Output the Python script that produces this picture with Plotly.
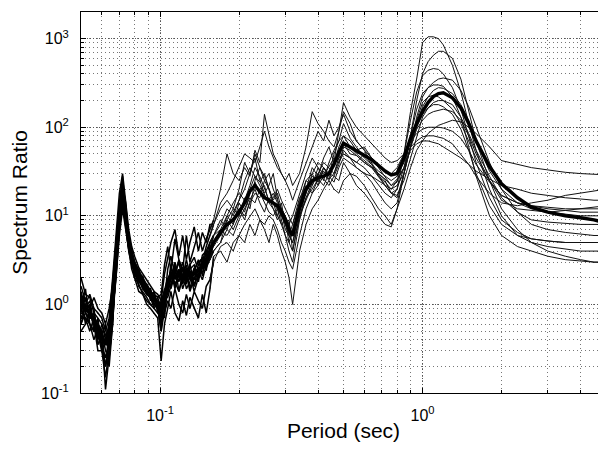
import math
import plotly.graph_objects as go

# period grid (sec): dense high-frequency part + sparser long-period part
periods_hf = [0.050, 0.052, 0.054, 0.056, 0.058, 0.060, 0.062, 0.064, 0.066, 0.068,
              0.070, 0.072, 0.074, 0.076, 0.078, 0.080, 0.083, 0.086, 0.089, 0.092,
              0.095, 0.098, 0.101, 0.104, 0.107, 0.110, 0.114, 0.118, 0.122, 0.126,
              0.130, 0.135, 0.140, 0.145, 0.150, 0.155]
periods_lf = [0.16, 0.17, 0.18, 0.19, 0.20, 0.21, 0.22, 0.23, 0.24, 0.25,
              0.26, 0.27, 0.28, 0.29, 0.30, 0.31, 0.32, 0.34, 0.36, 0.38,
              0.40, 0.42, 0.44, 0.46, 0.48, 0.50, 0.53, 0.56, 0.60, 0.64,
              0.68, 0.72, 0.76, 0.80, 0.85, 0.90, 0.95, 1.0, 1.05, 1.1,
              1.15, 1.2, 1.3, 1.4, 1.5, 1.6, 1.8, 2.0, 2.3, 2.6,
              3.0, 3.5, 4.0, 4.5, 5.0]

# individual spectrum ratios (hf part, lf part)
st01_hf = [1.4, 0.9, 1.1, 0.6, 0.5, 0.35, 0.2, 0.3, 0.9, 4, 14, 28, 11, 6, 4, 3, 2.4, 1.8, 1.6, 1.3,
           1.2, 1.0, 0.7, 1.1, 2.5, 3.5, 2.2, 3, 1.8, 2.6, 1.5, 2.4, 3.2, 2.1, 3.5, 5]
st01_lf = [6, 9, 7, 11, 15, 20, 30, 45, 25, 18, 22, 30, 16, 9, 6, 4, 3, 9, 20, 35,
           28, 45, 60, 40, 90, 150, 110, 70, 55, 40, 30, 22, 18, 20, 50, 150, 350, 900, 1050, 1050,
           1000, 850, 500, 250, 110, 55, 20, 10, 6, 5, 4.5, 4.2, 4, 4, 4]
st02_hf = [0.8, 1.2, 0.7, 0.8, 0.45, 0.5, 0.3, 0.25, 0.7, 3, 9, 22, 14, 5, 3.5, 2.5, 2, 1.6, 1.4, 1.2,
           0.9, 1.1, 0.8, 1.5, 1.4, 2.8, 1.6, 2.2, 2.6, 1.7, 2.9, 1.6, 2.8, 3.4, 2.6, 3.2]
st02_lf = [4, 5, 9, 7, 10, 16, 12, 25, 35, 28, 20, 15, 18, 12, 10, 6, 5, 12, 18, 30,
           22, 35, 28, 50, 70, 110, 75, 60, 45, 38, 28, 24, 20, 25, 35, 80, 200, 400, 550, 650,
           720, 720, 600, 350, 150, 70, 25, 12, 7, 5, 4, 3.5, 3.2, 3, 3]
st03_hf = [0.6, 0.8, 1.0, 0.5, 0.7, 0.3, 0.25, 0.4, 1.2, 5, 12, 25, 10, 4.5, 3.2, 2.6, 2.0, 1.5, 1.6, 1.1,
           1.3, 0.8, 1.0, 0.9, 1.9, 1.6, 2.8, 1.4, 2.0, 3.2, 2.2, 1.4, 2.0, 2.6, 4, 3.6]
st03_lf = [5, 7, 6, 8, 12, 9, 15, 20, 14, 11, 16, 12, 10, 14, 8, 9, 4, 10, 15, 22,
           35, 30, 25, 40, 60, 80, 70, 55, 60, 45, 35, 28, 22, 24, 50, 120, 250, 380, 440, 460,
           450, 400, 280, 160, 80, 40, 16, 9, 6.5, 5.5, 5.2, 5, 5, 5, 5]
st04_hf = [1.2, 0.6, 0.9, 0.9, 0.4, 0.6, 0.45, 0.5, 1.5, 2.5, 8, 16, 9, 5.5, 3.8, 2.2, 1.9, 2.1, 1.3, 1.4,
           1.0, 0.9, 0.5, 1.3, 1.2, 1.6, 2.4, 1.8, 2.6, 1.5, 1.8, 2.6, 1.8, 3, 2.4, 4.5]
st04_lf = [4.5, 6, 10, 8, 14, 11, 18, 24, 18, 14, 11, 10, 12, 8, 9, 5, 7, 14, 25, 22,
           30, 40, 35, 30, 45, 65, 50, 48, 40, 35, 30, 25, 18, 16, 30, 60, 130, 220, 280, 320,
           350, 360, 340, 260, 170, 100, 40, 20, 11, 8, 7, 6.5, 6.2, 6, 6]
st05_hf = [0.9, 1.5, 0.6, 0.5, 0.6, 0.5, 0.35, 0.6, 0.9, 2, 7, 14, 8, 4, 2.8, 2.4, 1.6, 1.4, 1.2, 1.0,
           1.0, 1.2, 0.9, 1.0, 1.7, 2.4, 1.5, 2.5, 1.7, 2.2, 1.4, 2.0, 2.4, 1.9, 2.8, 3.6]
st05_lf = [4, 5, 7, 6, 9, 12, 16, 14, 20, 22, 14, 12, 9, 11, 7, 6, 8, 16, 20, 28,
           24, 32, 26, 30, 40, 55, 45, 40, 50, 38, 32, 28, 25, 28, 40, 70, 110, 170, 220, 260,
           280, 275, 240, 180, 120, 70, 32, 20, 14, 12, 11, 10.5, 10, 10, 10]
st06_hf = [0.7, 0.7, 0.5, 0.7, 0.35, 0.45, 0.6, 0.2, 0.6, 3, 11, 20, 13, 6, 3.2, 2.0, 2.5, 1.7, 1.5, 1.2,
           1.4, 0.9, 1.1, 1.4, 1.3, 2.0, 3.0, 2.0, 2.2, 2.8, 1.9, 2.5, 3.0, 3.3, 3, 4.2]
st06_lf = [6, 8, 12, 10, 15, 25, 35, 28, 22, 18, 14, 16, 20, 15, 12, 10, 8, 14, 22, 18,
           26, 22, 30, 38, 45, 50, 45, 35, 30, 28, 25, 22, 20, 22, 30, 60, 120, 190, 220, 230,
           220, 200, 160, 110, 70, 45, 25, 17, 14, 13, 12.5, 12, 12, 12, 12]
st07_hf = [1.1, 0.8, 0.6, 0.4, 0.55, 0.4, 0.2, 0.4, 1.0, 4, 12, 20, 10, 5, 4, 2.5, 1.8, 1.9, 1.4, 1.5,
           1.1, 1.0, 0.6, 1.2, 1.5, 2.6, 2.0, 2.4, 1.5, 2.0, 2.4, 1.6, 2.2, 2.8, 3.8, 3.2]
st07_lf = [5, 6, 8, 9, 12, 10, 14, 18, 16, 25, 20, 14, 12, 10, 8, 6, 5, 9, 16, 24,
           30, 26, 22, 28, 38, 60, 55, 48, 40, 35, 28, 22, 18, 17, 25, 45, 80, 130, 165, 190,
           200, 200, 180, 130, 85, 55, 28, 16, 11, 9, 8.5, 8.2, 8, 8, 8]
st08_hf = [2.0, 1.3, 1.2, 0.8, 0.7, 0.6, 0.4, 0.6, 1.4, 3, 9, 18, 9, 4.5, 3, 2.8, 2.2, 1.6, 1.7, 1.4,
           1.2, 1.1, 1.0, 0.7, 2.0, 1.5, 2.2, 3.2, 2.4, 1.8, 2.8, 3.4, 2.4, 3.0, 4.5, 6]
st08_lf = [8, 12, 15, 12, 20, 40, 30, 50, 35, 25, 30, 20, 15, 12, 10, 8, 10, 18, 30, 45,
           35, 25, 40, 55, 70, 80, 60, 50, 42, 36, 30, 26, 22, 26, 35, 60, 95, 120, 140, 150,
           155, 160, 150, 120, 80, 50, 25, 15, 12, 11.5, 11, 11.5, 12, 12.5, 13]
st09_hf = [0.5, 0.6, 0.8, 0.6, 0.3, 0.3, 0.15, 0.3, 0.7, 2, 6, 12, 7, 4, 2.5, 2.0, 1.4, 1.3, 1.0, 0.9,
           0.8, 0.7, 0.23, 0.6, 0.9, 1.4, 0.8, 0.65, 1.1, 0.75, 1.2, 0.9, 0.7, 1.3, 0.8, 1.5]
st09_lf = [3.5, 4, 3, 5, 6, 5, 8, 6, 9, 7, 5, 8, 6, 4, 3, 2, 1.0, 4, 8, 12,
           15, 20, 25, 20, 18, 25, 30, 28, 22, 16, 12, 10, 8, 12, 20, 35, 55, 70, 85, 95,
           105, 110, 120, 115, 100, 85, 60, 42, 38, 35, 33, 31, 30, 29.5, 29]
st10_hf = [0.6, 1.0, 1.3, 0.9, 0.8, 0.7, 0.5, 0.7, 2.0, 6, 18, 30, 15, 7, 4.5, 3.5, 2.6, 2.2, 1.9, 1.6,
           1.4, 1.3, 1.1, 2.2, 3.5, 5, 7, 3.5, 6, 3.2, 5, 7.5, 4, 6.5, 5, 8]
st10_lf = [8, 14, 18, 25, 35, 50, 45, 40, 60, 90, 60, 45, 35, 30, 25, 20, 15, 25, 40, 60,
           90, 70, 120, 80, 100, 140, 90, 70, 55, 45, 38, 32, 30, 35, 50, 70, 85, 95, 100, 100,
           100, 98, 90, 75, 55, 38, 24, 17, 14, 13, 12, 11.5, 11, 11, 11]
st11_hf = [1.6, 1.1, 0.9, 1.2, 0.9, 0.8, 0.6, 0.9, 1.6, 4, 13, 24, 12, 6, 4, 3.0, 2.4, 2.0, 1.7, 1.4,
           1.3, 1.2, 1.3, 2.8, 4.5, 2.4, 5.5, 3.2, 2.4, 6, 3, 4.5, 6.5, 4, 5.5, 7]
st11_lf = [9, 20, 50, 30, 25, 35, 28, 55, 40, 140, 80, 50, 40, 30, 25, 30, 22, 30, 60, 150,
           110, 90, 70, 60, 90, 190, 130, 100, 80, 65, 55, 45, 40, 42, 50, 60, 70, 78, 80, 80,
           78, 75, 65, 50, 38, 28, 18, 14, 13, 14, 15, 17, 18, 19, 20]
st12_hf = [0.9, 0.7, 0.6, 0.5, 0.5, 0.35, 0.25, 0.35, 0.8, 2.2, 7, 15, 8, 4.2, 3, 2.0, 1.7, 1.3, 1.1, 1.0,
           0.9, 0.8, 0.8, 0.8, 1.1, 0.9, 1.5, 1.0, 0.8, 1.3, 0.9, 1.4, 1.1, 0.9, 1.6, 1.9]
st12_lf = [3, 4.5, 5, 4, 6, 8, 10, 12, 9, 8, 10, 9, 7, 5, 4, 3, 2.5, 6, 12, 18,
           22, 28, 35, 45, 40, 50, 45, 40, 35, 28, 22, 18, 16, 20, 35, 55, 65, 70, 70, 68,
           65, 60, 52, 45, 38, 32, 26, 22, 20, 18, 17, 16, 15.5, 15, 15]
st13_hf = [1.3, 0.8, 0.7, 0.7, 0.6, 0.5, 0.11, 0.25, 0.6, 2.8, 9, 20, 11, 5, 3.2, 2.6, 2.0, 1.5, 1.3, 1.2,
           1.0, 0.9, 0.5, 0.9, 1.4, 2.0, 1.8, 1.4, 2.2, 1.8, 2.4, 1.9, 2.6, 2.3, 3.2, 4]
st13_lf = [5, 6, 9, 12, 10, 14, 20, 28, 24, 30, 20, 14, 10, 8, 6, 5, 4, 10, 16, 20,
           26, 35, 28, 24, 35, 45, 40, 35, 30, 24, 18, 14, 12, 14, 30, 80, 160, 240, 280, 300,
           300, 290, 220, 130, 60, 28, 10, 6, 4.5, 4, 3.5, 3.2, 3.1, 3, 3]
st14_hf = [0.7, 1.0, 0.8, 0.6, 0.45, 0.3, 0.4, 0.5, 1.1, 3.5, 11, 24, 12, 5, 3.4, 2.4, 1.8, 1.6, 1.3, 1.2,
           1.1, 1.0, 0.7, 1.4, 1.6, 1.9, 2.6, 2.2, 3.0, 2.0, 2.5, 2.8, 2.0, 3.6, 4.0, 5]
st14_lf = [6, 7, 10, 14, 18, 15, 22, 35, 28, 20, 15, 18, 14, 12, 10, 8, 6, 15, 25, 30,
           40, 35, 30, 28, 25, 40, 30, 22, 18, 14, 10, 8, 7.5, 12, 30, 60, 100, 140, 165, 180,
           180, 170, 140, 95, 55, 30, 13, 8, 6, 5.5, 5.2, 5, 5, 5, 5]

# average spectrum ratio (thick line)
mean_hf = [1.0, 0.9, 0.8, 0.7, 0.55, 0.45, 0.35, 0.45, 1.2, 3.5, 10, 18, 9, 5, 3.5, 2.8, 2.2, 1.8, 1.5, 1.3,
           1.15, 1.0, 0.9, 1.3, 1.8, 2.2, 2.0, 2.3, 2.0, 2.4, 2.1, 2.2, 2.5, 2.6, 3.0, 4.0]
mean_lf = [5.0, 6.5, 8, 9, 11, 14, 19, 22, 19, 16, 15, 14, 13, 11, 9, 7, 6, 12, 20, 25,
           27, 28, 30, 38, 52, 66, 60, 54, 49, 43, 37, 32, 29, 30, 45, 75, 110, 150, 190, 222,
           240, 245, 215, 165, 110, 70, 36, 23, 16, 12.5, 11, 10, 9.5, 9, 8.3]

stations = [
    (st01_hf, st01_lf), (st02_hf, st02_lf), (st03_hf, st03_lf), (st04_hf, st04_lf),
    (st05_hf, st05_lf), (st06_hf, st06_lf), (st07_hf, st07_lf), (st08_hf, st08_lf),
    (st09_hf, st09_lf), (st10_hf, st10_lf), (st11_hf, st11_lf), (st12_hf, st12_lf),
    (st13_hf, st13_lf), (st14_hf, st14_lf),
]

y_tickvals = [0.1, 1, 10, 100, 1000]
y_ticktext = ['10<sup>-1</sup>', '10<sup>0</sup>', '10<sup>1</sup>', '10<sup>2</sup>', '10<sup>3</sup>']
x_tickvals = [0.1, 1]
x_ticktext = ['10<sup>-1</sup>', '10<sup>0</sup>']

assert len(mean_hf) == len(periods_hf) and len(mean_lf) == len(periods_lf)

fig = go.Figure()

# the noisy short-period part is drawn a bit heavier so the band reads as dense
for hf, lf in stations:
    assert len(hf) == len(periods_hf) and len(lf) == len(periods_lf)
    fig.add_trace(go.Scatter(
        x=periods_hf + periods_lf[:1], y=hf + lf[:1], mode='lines',
        line=dict(color='#000000', width=1.5),
        hoverinfo='skip', showlegend=False,
    ))
    fig.add_trace(go.Scatter(
        x=periods_hf[-1:] + periods_lf, y=hf[-1:] + lf, mode='lines',
        line=dict(color='#111111', width=1.0),
        hoverinfo='skip', showlegend=False,
    ))

fig.add_trace(go.Scatter(
    x=periods_hf + periods_lf, y=mean_hf + mean_lf, mode='lines',
    line=dict(color='#000000', width=3.5),
    hoverinfo='skip', showlegend=False,
))

grid_minor = dict(
    dtick='D1', showgrid=True, gridcolor='#777777', griddash='1px,3px', gridwidth=1,
    ticks='inside', ticklen=3, tickcolor='#000000',
)
common = dict(
    type='log',
    showgrid=True, gridcolor='#555555', griddash='1px,2px', gridwidth=1,
    ticks='inside', ticklen=5, tickcolor='#000000',
    minor=grid_minor,
    showline=True, linecolor='#000000', linewidth=1, mirror='ticks',
    zeroline=False,
    tickfont=dict(size=16),
    ticklabelstandoff=8,
)

fig.update_xaxes(
    range=[math.log10(0.05), math.log10(5)],
    tickvals=x_tickvals, ticktext=x_ticktext,
    title=dict(text='Period (sec)', font=dict(size=21), standoff=0),
    **common,
)
fig.update_yaxes(
    range=[-1, math.log10(2000)],
    tickvals=y_tickvals, ticktext=y_ticktext,
    title=dict(text='Spectrum Ratio', font=dict(size=21), standoff=10),
    **common,
)

# the page body keeps its 8px default margin, so the figure is sized to fill
# the rest of the 606x455 window
fig.update_layout(
    width=598, height=447,
    margin=dict(l=73, r=0, t=4, b=62, autoexpand=False),
    paper_bgcolor='white', plot_bgcolor='white',
    font=dict(family='Liberation Sans, Arial, sans-serif', color='#000000'),
)

fig.write_html('out.html')
